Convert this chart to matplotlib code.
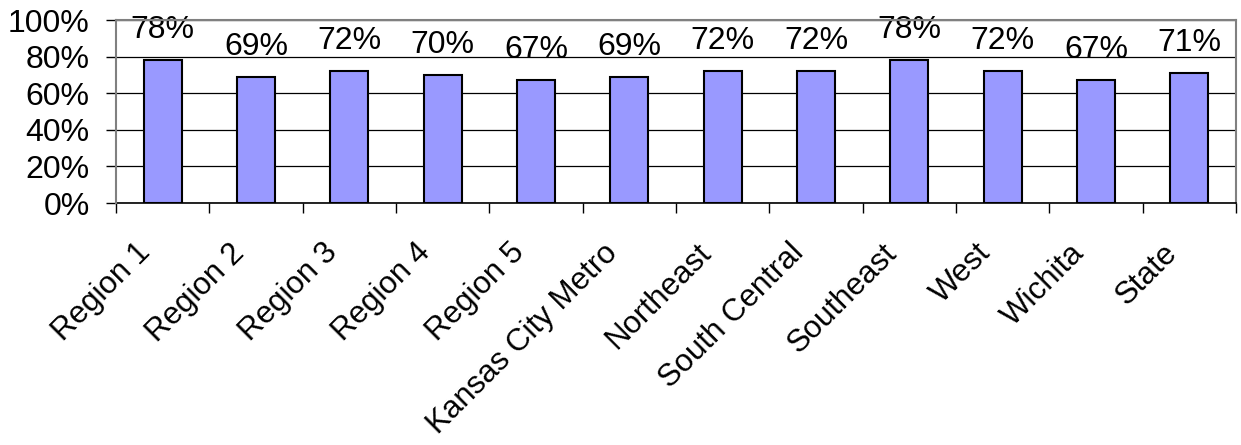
import matplotlib
matplotlib.use("Agg")
import matplotlib.pyplot as plt
from matplotlib.ticker import FixedLocator, PercentFormatter
from matplotlib.transforms import ScaledTranslation

categories = ["Region 1", "Region 2", "Region 3", "Region 4", "Region 5",
              "Kansas City Metro", "Northeast", "South Central", "Southeast",
              "West", "Wichita", "State"]
values = [0.78, 0.69, 0.72, 0.70, 0.67, 0.69, 0.72, 0.72, 0.78, 0.72, 0.67, 0.71]
value_labels = ["78%", "69%", "72%", "70%", "67%", "69%", "72%", "72%", "78%", "72%", "67%", "71%"]

plt.rcParams['font.family'] = ['Liberation Sans', 'DejaVu Sans']

fig = plt.figure(figsize=(12.41, 4.45), dpi=100)
ax = fig.add_axes([116/1241, (445-203)/445, 1120/1241, 183/445])

x = list(range(len(categories)))
ax.bar(x, values, width=0.41, color="#9999FF", edgecolor="black", linewidth=1.5, zorder=3)

for xi, v, lab in zip(x, values, value_labels):
    ax.annotate(lab, (xi, v), xytext=(0, 16), textcoords="offset points",
                ha="center", va="baseline", fontsize=23, zorder=2)

ax.set_xlim(-0.5, len(categories) - 0.5)
ax.set_ylim(0, 1)
ax.set_yticks([0, 0.2, 0.4, 0.6, 0.8, 1.0])
ax.yaxis.set_major_formatter(PercentFormatter(1.0, decimals=0))
ax.grid(axis="y", color="black", linewidth=0.9, zorder=2.5)

ax.set_xticks(x)
ax.set_xticklabels(categories, rotation=45, ha="right", rotation_mode="anchor", fontsize=22.5)
ax.xaxis.set_minor_locator(FixedLocator([i - 0.5 for i in range(len(categories) + 1)]))
ax.tick_params(axis="x", which="major", length=0, pad=25)
ax.tick_params(axis="x", which="minor", length=7, width=1, color="black", direction="out")
ax.tick_params(axis="y", which="major", length=7, width=1, labelsize=23, pad=12)

shift = ScaledTranslation(-27/100, 0, fig.dpi_scale_trans)
for lab in ax.get_xticklabels():
    lab.set_transform(lab.get_transform() + shift)

for side in ["top", "right", "left"]:
    ax.spines[side].set_color("#808080")
    ax.spines[side].set_linewidth(1.5)
ax.spines["bottom"].set_color("black")
ax.spines["bottom"].set_linewidth(1.2)
ax.spines["left"].set_zorder(5)

fig.savefig("out.png", dpi=100)
